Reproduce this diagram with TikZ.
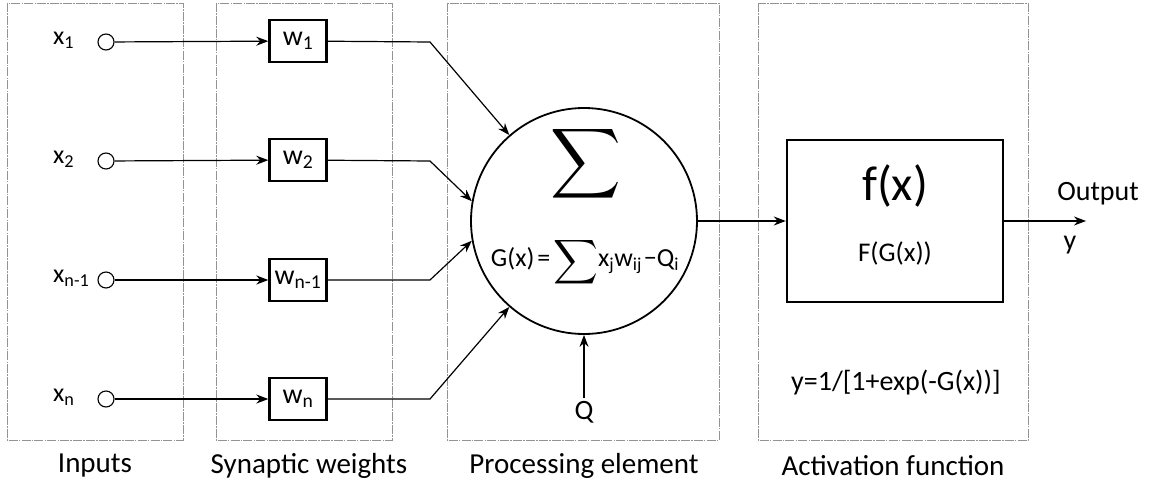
\documentclass[tikz,border=0pt]{standalone}
\usepackage{fontspec}
\setmainfont{Carlito}
\usepackage{graphicx}
\usetikzlibrary{arrows.meta}

\newcommand{\sumglyph}[1]{{\fontsize{10}{12}\selectfont\scalebox{#1}{$\displaystyle\sum$}}}

\tikzset{
  panel/.style={draw=gray!85, line width=0.9pt, dash pattern=on 9pt off 1.2pt on 1.5pt off 1.2pt},
  weight/.style={draw, line width=2.4pt, minimum width=57pt, minimum height=42pt, inner sep=0pt, font=\fontsize{28}{32}\selectfont},
  port/.style={draw, circle, line width=1.1pt, minimum size=16pt, inner sep=0pt},
  inlabel/.style={anchor=west, inner sep=0pt, font=\fontsize{26}{30}\selectfont},
  wire/.style={line width=1.2pt},
  caption/.style={font=\fontsize{29}{34}\selectfont},
}

\begin{document}
\begin{tikzpicture}[x=1pt, y=-1pt, >={Stealth[length=12pt, width=9pt]}]
        \useasboundingbox (0,0) rectangle (1152,484);

        % Panels
        \draw[panel] (7,3) rectangle (183,440);
        \draw[panel] (216,3) rectangle (392,440);
        \draw[panel] (447,3) rectangle (719,440);
        \draw[panel] (758,3) rectangle (1028,440);

        % Captions
        \node[caption] (capin) at (95,466) {Inputs};
        \node[caption] (capw) at (309,466) {Synaptic weights};
        \node[caption] (capp) at (584,466) {Processing element};
        \node[caption] (capa) at (893,466) {Activation function};

        % Summing neuron
        \node[draw, circle, line width=1.8pt, minimum size=226pt, inner sep=0pt] (sum) at (584,221) {};
        \node (sigma) at (586,164) {\sumglyph{4.9}};
        \node[font=\fontsize{26}{30}\selectfont] (geq) at (585,262)
            {G(x)\kern3pt=\kern3pt\raisebox{-0.25ex}{\sumglyph{3.1}}x\textsubscript{j}w\textsubscript{ij}\kern2pt−Q\textsubscript{i}};

        % Inputs
        \node[inlabel] (lx1) at (53,40) {x\textsubscript{1}};
        \node[inlabel] (lx2) at (53,159) {x\textsubscript{2}};
        \node[inlabel] (lx3) at (53,278) {x\textsubscript{n-1}};
        \node[inlabel] (lx4) at (53,397) {x\textsubscript{n}};
        \node[port] (in1) at (106,42) {};
        \node[port] (in2) at (106,161) {};
        \node[port] (in3) at (106,280) {};
        \node[port] (in4) at (106,399) {};

        % Synaptic weights
        \node[weight] (w1) at (298,41) {w\textsubscript{1}};
        \node[weight] (w2) at (298,160) {w\textsubscript{2}};
        \node[weight] (w3) at (298,280) {w\textsubscript{n-1}};
        \node[weight] (w4) at (298,399) {w\textsubscript{n}};
        \draw[wire,->] (in1) -- (w1);
        \draw[wire,->] (in2) -- (w2);
        \draw[wire,->] (in3) -- (w3);
        \draw[wire,->] (in4) -- (w4);

        % Weighted inputs into the neuron
        \coordinate (b1) at (430,42);
        \coordinate (b2) at (430,161);
        \coordinate (b3) at (430,280);
        \coordinate (b4) at (430,399);
        \draw[wire,->] (w1) -- (b1) -- (sum.131);
        \draw[wire,->] (w2) -- (b2) -- (sum.170);
        \draw[wire,->] (w3) -- (b3) -- (sum.190);
        \draw[wire,->] (w4) -- (b4) -- (sum.229);

        % Threshold Q
        \node[font=\fontsize{28}{32}\selectfont] (q) at (584,412) {Q};
        \draw[wire,->] (q) -- (sum);

        % Activation function
        \node[draw, line width=2.4pt, minimum width=216pt, minimum height=162pt] (act) at (895,221) {};
        \node[font=\fontsize{49}{54}\selectfont] (fx) at (895,186) {f(x)};
        \node[font=\fontsize{27}{30}\selectfont] (fgx) at (895,253) {F(G(x))};
        \node[font=\fontsize{28}{32}\selectfont] (sig) at (896,383) {y=1/[1+exp(-G(x))]};
        \draw[wire,->] (sum) -- (act);

        % Output
        \coordinate (out) at (1086,221);
        \draw[wire,->] (act) -- (out);
        \node[font=\fontsize{28}{32}\selectfont] (outlab) at (1098,194) {Output};
        \node[font=\fontsize{28}{32}\selectfont] (ylab) at (1070,245) {y};
    \end{tikzpicture}
\end{document}
